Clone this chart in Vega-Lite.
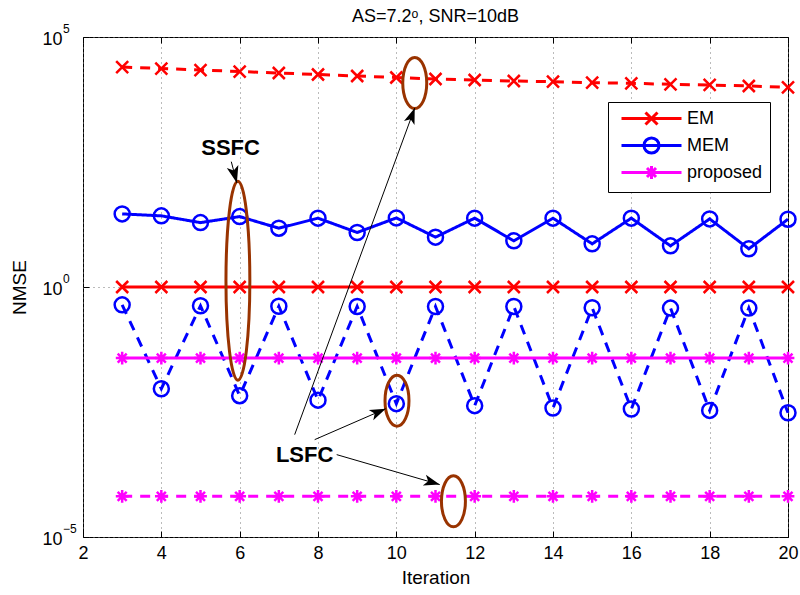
{
  "$schema": "https://vega.github.io/schema/vega-lite/v6.json",
  "width": 705,
  "height": 500,
  "autosize": "none",
  "padding": {"left": 83, "top": 37, "right": 12, "bottom": 58},
  "title": {"text": "AS=7.2ᵒ, SNR=10dB", "fontSize": 18, "fontWeight": "normal", "font": "Liberation Sans", "color": "black", "offset": 8, "dy": 11, "anchor": "middle"},
  "config": {
    "font": "Liberation Sans",
    "view": {"stroke": "black", "strokeWidth": 1},
    "axis": {"labelFont": "Liberation Sans", "titleFont": "Liberation Sans", "labelColor": "black", "titleColor": "black", "labelFlush": false, "labelOverlap": false, "labelBound": false, "domain": false, "tickColor": "black", "tickWidth": 1}
  },
  "datasets": {
    "main": [
      {"s":"EM","v":"dashed","x":3,"y":25100},{"s":"EM","v":"dashed","x":4,"y":23400},{"s":"EM","v":"dashed","x":5,"y":21850},{"s":"EM","v":"dashed","x":6,"y":20400},{"s":"EM","v":"dashed","x":7,"y":19050},{"s":"EM","v":"dashed","x":8,"y":17780},{"s":"EM","v":"dashed","x":9,"y":16600},{"s":"EM","v":"dashed","x":10,"y":15490},{"s":"EM","v":"dashed","x":11,"y":14450},{"s":"EM","v":"dashed","x":12,"y":13800},{"s":"EM","v":"dashed","x":13,"y":13180},{"s":"EM","v":"dashed","x":14,"y":12760},{"s":"EM","v":"dashed","x":15,"y":12190},{"s":"EM","v":"dashed","x":16,"y":11860},{"s":"EM","v":"dashed","x":17,"y":11320},{"s":"EM","v":"dashed","x":18,"y":10970},{"s":"EM","v":"dashed","x":19,"y":10470},{"s":"EM","v":"dashed","x":20,"y":9860},
      {"s":"EM","v":"solid","x":3,"y":1},{"s":"EM","v":"solid","x":4,"y":1},{"s":"EM","v":"solid","x":5,"y":1},{"s":"EM","v":"solid","x":6,"y":1},{"s":"EM","v":"solid","x":7,"y":1},{"s":"EM","v":"solid","x":8,"y":1},{"s":"EM","v":"solid","x":9,"y":1},{"s":"EM","v":"solid","x":10,"y":1},{"s":"EM","v":"solid","x":11,"y":1},{"s":"EM","v":"solid","x":12,"y":1},{"s":"EM","v":"solid","x":13,"y":1},{"s":"EM","v":"solid","x":14,"y":1},{"s":"EM","v":"solid","x":15,"y":1},{"s":"EM","v":"solid","x":16,"y":1},{"s":"EM","v":"solid","x":17,"y":1},{"s":"EM","v":"solid","x":18,"y":1},{"s":"EM","v":"solid","x":19,"y":1},{"s":"EM","v":"solid","x":20,"y":1},
      {"s":"MEM","v":"solid","x":3,"y":29.0},{"s":"MEM","v":"solid","x":4,"y":26.5},{"s":"MEM","v":"solid","x":5,"y":19.4},{"s":"MEM","v":"solid","x":6,"y":25.6},{"s":"MEM","v":"solid","x":7,"y":15.0},{"s":"MEM","v":"solid","x":8,"y":23.8},{"s":"MEM","v":"solid","x":9,"y":12.3},{"s":"MEM","v":"solid","x":10,"y":24.1},{"s":"MEM","v":"solid","x":11,"y":9.93},{"s":"MEM","v":"solid","x":12,"y":23.8},{"s":"MEM","v":"solid","x":13,"y":8.38},{"s":"MEM","v":"solid","x":14,"y":23.8},{"s":"MEM","v":"solid","x":15,"y":7.30},{"s":"MEM","v":"solid","x":16,"y":23.8},{"s":"MEM","v":"solid","x":17,"y":6.65},{"s":"MEM","v":"solid","x":18,"y":23.0},{"s":"MEM","v":"solid","x":19,"y":5.80},{"s":"MEM","v":"solid","x":20,"y":22.7},
      {"s":"MEM","v":"dashed","x":3,"y":0.440},{"s":"MEM","v":"dashed","x":4,"y":0.00924},{"s":"MEM","v":"dashed","x":5,"y":0.421},{"s":"MEM","v":"dashed","x":6,"y":0.00670},{"s":"MEM","v":"dashed","x":7,"y":0.412},{"s":"MEM","v":"dashed","x":8,"y":0.00546},{"s":"MEM","v":"dashed","x":9,"y":0.408},{"s":"MEM","v":"dashed","x":10,"y":0.00464},{"s":"MEM","v":"dashed","x":11,"y":0.408},{"s":"MEM","v":"dashed","x":12,"y":0.00423},{"s":"MEM","v":"dashed","x":13,"y":0.408},{"s":"MEM","v":"dashed","x":14,"y":0.00380},{"s":"MEM","v":"dashed","x":15,"y":0.384},{"s":"MEM","v":"dashed","x":16,"y":0.00363},{"s":"MEM","v":"dashed","x":17,"y":0.379},{"s":"MEM","v":"dashed","x":18,"y":0.00340},{"s":"MEM","v":"dashed","x":19,"y":0.379},{"s":"MEM","v":"dashed","x":20,"y":0.00305},
      {"s":"proposed","v":"solid","x":3,"y":0.038},{"s":"proposed","v":"solid","x":4,"y":0.038},{"s":"proposed","v":"solid","x":5,"y":0.038},{"s":"proposed","v":"solid","x":6,"y":0.038},{"s":"proposed","v":"solid","x":7,"y":0.038},{"s":"proposed","v":"solid","x":8,"y":0.038},{"s":"proposed","v":"solid","x":9,"y":0.038},{"s":"proposed","v":"solid","x":10,"y":0.038},{"s":"proposed","v":"solid","x":11,"y":0.038},{"s":"proposed","v":"solid","x":12,"y":0.038},{"s":"proposed","v":"solid","x":13,"y":0.038},{"s":"proposed","v":"solid","x":14,"y":0.038},{"s":"proposed","v":"solid","x":15,"y":0.038},{"s":"proposed","v":"solid","x":16,"y":0.038},{"s":"proposed","v":"solid","x":17,"y":0.038},{"s":"proposed","v":"solid","x":18,"y":0.038},{"s":"proposed","v":"solid","x":19,"y":0.038},{"s":"proposed","v":"solid","x":20,"y":0.038},
      {"s":"proposed","v":"dashed","x":3,"y":6.52e-5},{"s":"proposed","v":"dashed","x":4,"y":6.52e-5},{"s":"proposed","v":"dashed","x":5,"y":6.52e-5},{"s":"proposed","v":"dashed","x":6,"y":6.52e-5},{"s":"proposed","v":"dashed","x":7,"y":6.52e-5},{"s":"proposed","v":"dashed","x":8,"y":6.52e-5},{"s":"proposed","v":"dashed","x":9,"y":6.52e-5},{"s":"proposed","v":"dashed","x":10,"y":6.52e-5},{"s":"proposed","v":"dashed","x":11,"y":6.52e-5},{"s":"proposed","v":"dashed","x":12,"y":6.52e-5},{"s":"proposed","v":"dashed","x":13,"y":6.52e-5},{"s":"proposed","v":"dashed","x":14,"y":6.52e-5},{"s":"proposed","v":"dashed","x":15,"y":6.52e-5},{"s":"proposed","v":"dashed","x":16,"y":6.52e-5},{"s":"proposed","v":"dashed","x":17,"y":6.52e-5},{"s":"proposed","v":"dashed","x":18,"y":6.52e-5},{"s":"proposed","v":"dashed","x":19,"y":6.52e-5},{"s":"proposed","v":"dashed","x":20,"y":6.52e-5}
    ],
    "ellSmall": [{"x":10.47,"y":12020},{"x":10.017,"y":0.00532},{"x":11.458,"y":5.18e-5}],
    "ellBig": [{"x":5.955,"y":1.33}],
    "arrows": [
      {"id":"ssfc","x":5.786,"y":321,"x2":5.929,"y2":120.8},
      {"id":"top","x":7.404,"y":0.001114,"x2":10.47,"y2":3802},
      {"id":"mid","x":7.915,"y":0.000885,"x2":9.729,"y2":0.00368},
      {"id":"bot","x":8.477,"y":0.000444,"x2":11.108,"y2":0.0001117}
    ],
    "labels": [{"x":5.768,"y":604,"t":"SSFC"},{"x":7.659,"y":0.000444,"t":"LSFC"}],
    "exps": [{"x":2,"y":100000,"t":"5"},{"x":2,"y":1,"t":"0"},{"x":2,"y":0.00001,"t":"−5"}]
  },
  "resolve": {"scale": {"shape": "independent"}, "axis": {"x": "independent", "y": "independent"}, "legend": {"color": "independent", "shape": "independent"}},
  "layer": [
    {
      "data": {"name": "main"},
      "mark": {"type": "line", "strokeWidth": 3},
      "encoding": {
        "x": {"field": "x", "type": "quantitative", "scale": {"domain": [2, 20], "nice": false, "zero": false},
          "axis": {"values": [2,4,6,8,10,12,14,16,18,20], "grid": true, "gridColor": "#777", "gridDash": [1,4], "gridWidth": 1, "tickSize": -6, "labelPadding": 13, "labelFontSize": 18, "title": "Iteration", "titleFontSize": 19, "titleFontWeight": "normal", "titlePadding": 6}},
        "y": {"field": "y", "type": "quantitative", "scale": {"type": "log", "domain": [0.00001, 100000], "nice": false},
          "axis": {"values": [0.00001, 1, 100000], "labelExpr": "'10'", "labelOffset": 2, "grid": true, "gridColor": "#777", "gridDash": [1,4], "gridWidth": 1, "tickSize": -6, "labelPadding": 27, "labelFontSize": 18, "title": "NMSE", "titleFontSize": 19, "titleFontWeight": "normal", "titlePadding": 12}},
        "color": {"field": "s", "type": "nominal", "scale": {"domain": ["EM","MEM","proposed"], "range": ["#ff0000","#0000ff","#ff00ff"]}, "legend": null},
        "strokeDash": {"field": "v", "type": "nominal", "scale": {"domain": ["solid","dashed"], "range": [[1,0],[10,8]]}, "legend": null}
      }
    },
    {
      "data": {"name": "main"},
      "mark": {"type": "point", "filled": false, "strokeWidth": 2.5, "size": 225, "opacity": 1},
      "encoding": {
        "x": {"field": "x", "type": "quantitative", "axis": null},
        "y": {"field": "y", "type": "quantitative", "axis": null},
        "color": {"field": "s", "type": "nominal", "legend": null},
        "shape": {"field": "s", "type": "nominal", "scale": {"domain": ["EM","MEM","proposed"], "range": ["M-0.8,-0.8L0.8,0.8M-0.8,0.8L0.8,-0.8", "circle", "M-0.85,0L0.85,0M0,-0.85L0,0.85M-0.6,-0.6L0.6,0.6M-0.6,0.6L0.6,-0.6"]}, "legend": null}
      }
    },
    {
      "data": {"name": "main"},
      "transform": [{"filter": "datum.x < 0"}],
      "mark": {"type": "point", "filled": false, "strokeWidth": 3, "opacity": 1},
      "encoding": {
        "x": {"field": "x", "type": "quantitative", "axis": null},
        "y": {"field": "y", "type": "quantitative", "axis": null},
        "color": {"field": "s", "type": "nominal",
          "legend": {"orient": "none", "legendX": 525, "legendY": 65, "title": null, "symbolSize": 256, "symbolStrokeWidth": 3, "symbolFillColor": "transparent", "symbolOpacity": 1, "labelFontSize": 18, "labelFont": "Liberation Sans", "labelColor": "black", "labelOffset": 53, "rowPadding": 0, "padding": 7, "strokeColor": "black", "fillColor": "white"}},
        "shape": {"field": "s", "type": "nominal",
          "scale": {"domain": ["EM","MEM","proposed"], "range": [
            "M-0.375,0L7.125,0M2.625,-0.75L4.125,0.75M2.625,0.75L4.125,-0.75",
            "M-0.375,0L7.125,0M2.435,0C2.435,-0.519 2.856,-0.94 3.375,-0.94C3.894,-0.94 4.315,-0.519 4.315,0C4.315,0.519 3.894,0.94 3.375,0.94C2.856,0.94 2.435,0.519 2.435,0Z",
            "M-0.375,0L7.125,0M3.375,-0.8L3.375,0.8M2.575,0L4.175,0M2.81,-0.57L3.94,0.57M2.81,0.57L3.94,-0.57"]},
          "legend": {"orient": "none", "legendX": 525, "legendY": 65, "title": null, "symbolSize": 256, "symbolStrokeWidth": 3, "symbolFillColor": "transparent", "symbolOpacity": 1, "labelFontSize": 18, "labelFont": "Liberation Sans", "labelColor": "black", "labelOffset": 53, "rowPadding": 0, "padding": 7, "strokeColor": "black", "fillColor": "white"}
        }
      }
    },
    {
      "data": {"name": "ellSmall"},
      "mark": {"type": "point", "filled": false, "stroke": "#993300", "strokeWidth": 3, "opacity": 1, "size": 2601,
        "shape": "M0,-1C0.26,-1 0.47,-0.552 0.47,0C0.47,0.552 0.26,1 0,1C-0.26,1 -0.47,0.552 -0.47,0C-0.47,-0.552 -0.26,-1 0,-1Z"},
      "encoding": {
        "x": {"field": "x", "type": "quantitative", "axis": null},
        "y": {"field": "y", "type": "quantitative", "axis": null}
      }
    },
    {
      "data": {"name": "ellBig"},
      "mark": {"type": "point", "filled": false, "stroke": "#993300", "strokeWidth": 3, "opacity": 1, "size": 39601,
        "shape": "M0,-1C0.066,-1 0.12,-0.552 0.12,0C0.12,0.552 0.066,1 0,1C-0.066,1 -0.12,0.552 -0.12,0C-0.12,-0.552 -0.066,-1 0,-1Z"},
      "encoding": {
        "x": {"field": "x", "type": "quantitative", "axis": null},
        "y": {"field": "y", "type": "quantitative", "axis": null}
      }
    },
    {
      "data": {"name": "arrows"},
      "mark": {"type": "rule", "color": "black", "strokeWidth": 1},
      "encoding": {
        "x": {"field": "x", "type": "quantitative", "axis": null},
        "y": {"field": "y", "type": "quantitative", "axis": null},
        "x2": {"field": "x2"},
        "y2": {"field": "y2"}
      }
    },
    {
      "data": {"name": "arrows"},
      "transform": [{"filter": "datum.id === 'ssfc'"}],
      "mark": {"type": "point", "filled": true, "color": "black", "opacity": 1, "size": 289, "angle": 165.3, "shape": "M0,0L0.7,2L0,1.5L-0.7,2Z"},
      "encoding": {
        "x": {"field": "x2", "type": "quantitative", "axis": null},
        "y": {"field": "y2", "type": "quantitative", "axis": null}
      }
    },
    {
      "data": {"name": "arrows"},
      "transform": [{"filter": "datum.id === 'top'"}],
      "mark": {"type": "point", "filled": true, "color": "black", "opacity": 1, "size": 256, "angle": 20.15, "shape": "M0,0L0.7,2L0,1.5L-0.7,2Z"},
      "encoding": {
        "x": {"field": "x2", "type": "quantitative", "axis": null},
        "y": {"field": "y2", "type": "quantitative", "axis": null}
      }
    },
    {
      "data": {"name": "arrows"},
      "transform": [{"filter": "datum.id === 'mid'"}],
      "mark": {"type": "point", "filled": true, "color": "black", "opacity": 1, "size": 256, "angle": 66.4, "shape": "M0,0L0.7,2L0,1.5L-0.7,2Z"},
      "encoding": {
        "x": {"field": "x2", "type": "quantitative", "axis": null},
        "y": {"field": "y2", "type": "quantitative", "axis": null}
      }
    },
    {
      "data": {"name": "arrows"},
      "transform": [{"filter": "datum.id === 'bot'"}],
      "mark": {"type": "point", "filled": true, "color": "black", "opacity": 1, "size": 256, "angle": 106.2, "shape": "M0,0L0.7,2L0,1.5L-0.7,2Z"},
      "encoding": {
        "x": {"field": "x2", "type": "quantitative", "axis": null},
        "y": {"field": "y2", "type": "quantitative", "axis": null}
      }
    },
    {
      "data": {"name": "exps"},
      "mark": {"type": "text", "font": "Liberation Sans", "fontSize": 12, "color": "black", "align": "left", "baseline": "middle", "dx": -20, "dy": -8},
      "encoding": {
        "x": {"field": "x", "type": "quantitative", "axis": null},
        "y": {"field": "y", "type": "quantitative", "axis": null},
        "text": {"field": "t", "type": "nominal"}
      }
    },
    {
      "data": {"name": "labels"},
      "mark": {"type": "text", "font": "Liberation Sans", "fontWeight": "bold", "fontSize": 22, "color": "black", "align": "center", "baseline": "middle"},
      "encoding": {
        "x": {"field": "x", "type": "quantitative", "axis": {"orient": "top", "values": [2,4,6,8,10,12,14,16,18,20], "labels": false, "ticks": true, "tickSize": -6, "grid": false, "domain": false, "title": null}},
        "y": {"field": "y", "type": "quantitative", "axis": {"orient": "right", "values": [0.00001, 1, 100000], "labels": false, "ticks": true, "tickSize": -6, "grid": false, "domain": false, "title": null}},
        "text": {"field": "t", "type": "nominal"}
      }
    }
  ]
}
